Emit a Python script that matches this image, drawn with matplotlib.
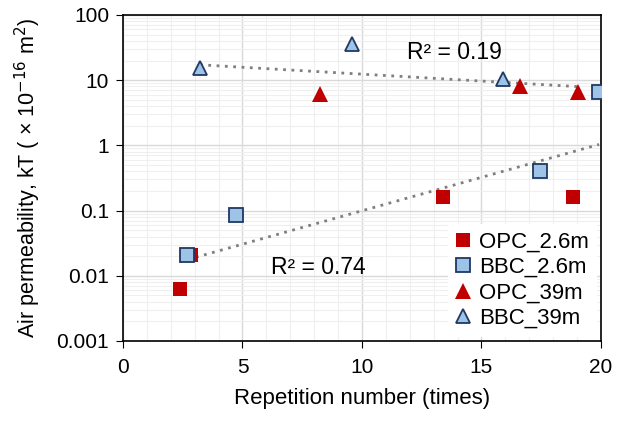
import matplotlib
matplotlib.use('Agg')
import matplotlib.pyplot as plt
import numpy as np

plt.rcParams['font.family'] = ['Liberation Sans', 'DejaVu Sans']

# repetition number vs air permeability kT (x 1e-16 m2)
opc26_x = [2.38, 2.85, 13.4, 18.83]
opc26_y = [0.0062, 0.021, 0.16, 0.16]
bbc26_x = [2.68, 4.73, 17.45, 19.92]
bbc26_y = [0.021, 0.085, 0.41, 6.6]
opc39_x = [8.24, 16.6, 19.04]
opc39_y = [6.2, 8.1, 6.6]
bbc39_x = [3.22, 9.58, 15.9]
bbc39_y = [15.5, 36.0, 10.5]

red = '#C00000'
blue_fill = '#9DC3E6'
blue_edge = '#1F3864'

fig = plt.figure(figsize=(6.26, 4.22), dpi=100)
ax = fig.add_axes([0.1965, 0.192, 0.7635, 0.7725])

ax.set_yscale('log')
ax.set_xlim(0, 20)
ax.set_ylim(0.001, 100)
ax.set_xticks(range(0, 21, 5))
ax.set_xticks(range(0, 21), minor=True)
ax.set_yticks([0.001, 0.01, 0.1, 1, 10, 100])
ax.set_yticklabels(['0.001', '0.01', '0.1', '1', '10', '100'])
ax.grid(which='major', color='#D9D9D9', linewidth=1.0)
ax.grid(which='minor', color='#EFEFEF', linewidth=0.8)
ax.set_axisbelow(True)
ax.tick_params(which='major', labelsize=15, length=5, direction='out', color='black')
ax.tick_params(axis='x', which='major', pad=7)
ax.tick_params(axis='y', which='major', pad=5)
ax.tick_params(which='minor', length=0)
for s in ax.spines.values():
    s.set_color('black')
    s.set_linewidth(1.2)


def exp_trend(xs, ys):
    # excel-style exponential trendline: fit ln(y) against x
    xs = np.asarray(xs)
    b, a = np.polyfit(xs, np.log(ys), 1)
    xx = np.linspace(xs.min(), xs.max(), 50)
    return xx, np.exp(a + b * xx)


tx, ty = exp_trend(opc26_x + bbc26_x, opc26_y + bbc26_y)
ax.plot(tx, ty, color='#7F7F7F', linestyle=(0, (1, 2)), linewidth=2, zorder=2)
tx, ty = exp_trend(opc39_x + bbc39_x, opc39_y + bbc39_y)
ax.plot(tx, ty, color='#7F7F7F', linestyle=(0, (1, 2)), linewidth=2, zorder=2)

ax.plot(opc26_x, opc26_y, 's', color=red, markersize=10, markeredgewidth=0,
        label='OPC_2.6m', zorder=3)
ax.plot(bbc26_x, bbc26_y, 's', markerfacecolor=blue_fill, markeredgecolor=blue_edge,
        markersize=10, markeredgewidth=1.3, label='BBC_2.6m', zorder=4)
ax.plot(opc39_x, opc39_y, '^', color=red, markersize=11, markeredgewidth=0,
        label='OPC_39m', zorder=3)
ax.plot(bbc39_x, bbc39_y, '^', markerfacecolor=blue_fill, markeredgecolor=blue_edge,
        markersize=10, markeredgewidth=1.3, label='BBC_39m', zorder=4)

ax.text(11.9, 21, 'R² = 0.19', fontsize=16.5)
ax.text(6.2, 0.0105, 'R² = 0.74', fontsize=16.5)

leg = ax.legend(loc='lower right', fontsize=16, frameon=True, fancybox=False,
                handlelength=0.7, handletextpad=0.35, labelspacing=0.2,
                borderpad=0.35, borderaxespad=0.2)
leg.get_frame().set_edgecolor('none')
leg.get_frame().set_alpha(1)

ax.set_xlabel('Repetition number (times)', fontsize=16, labelpad=8)
ax.set_ylabel('Air permeability, kT ( × 10$^{-16}$ m$^2$)', fontsize=15.5, labelpad=10)

fig.savefig('out.png', dpi=100)
